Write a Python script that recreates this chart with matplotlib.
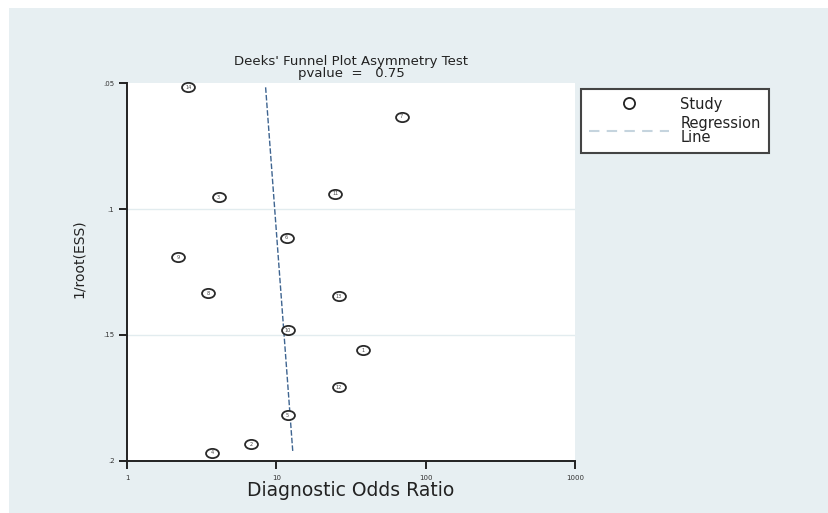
#!/usr/bin/env python3
"""Deeks' funnel plot asymmetry test, redrawn in matplotlib."""
import matplotlib
matplotlib.use("Agg")
import matplotlib.pyplot as plt
from matplotlib.lines import Line2D
from matplotlib.patches import Rectangle
from matplotlib.path import Path
from matplotlib.transforms import Affine2D
import numpy as np

# study data
study_ids = [14, 7, 3, 11, 6, 9, 8, 13, 10, 1, 12, 5, 2, 4]
dor = [2.57, 69.0, 4.1, 24.9, 11.7, 2.2, 3.5, 26.1, 11.9, 37.8, 26.1, 11.9, 6.8, 3.72]
inv_root_ess = [0.0516, 0.0632, 0.0952, 0.0939, 0.1114, 0.1191, 0.1334, 0.1346,
                0.1482, 0.1562, 0.1708, 0.1820, 0.1934, 0.1969]

# regression: ln(DOR) = intercept + slope * 1/root(ESS)
reg_intercept = 1.988
reg_slope = 2.893

x_ticks = [1, 10, 100, 1000]
y_ticks = [0.05, 0.1, 0.15, 0.2]
y_tick_labels = [".05", ".1", ".15", ".2"]
p_value = 0.75

BG = "#e7eff2"
INK = "#222222"
W, H = 829, 513

fig = plt.figure(figsize=(W / 100, H / 100), dpi=100)
fig.patch.set_facecolor("white")
fig.patches.append(Rectangle((9 / W, 0.5 / H), (W - 9) / W, (H - 8.5) / H,
                             transform=fig.transFigure, facecolor=BG,
                             edgecolor="none", zorder=-10))

ax = fig.add_axes([127 / W, 1 - 460.7 / H, 448 / W, 377.4 / H])
ax.set_facecolor("white")
ax.set_xscale("log")
ax.set_xlim(1, 1000)
ax.set_ylim(0.2, 0.05)
ax.minorticks_off()

for s in ["top", "right"]:
    ax.spines[s].set_visible(False)
for s in ["left", "bottom"]:
    ax.spines[s].set_linewidth(1.4)
    ax.spines[s].set_color(INK)

ax.set_xticks(x_ticks)
ax.set_xticklabels([str(t) for t in x_ticks])
ax.set_yticks(y_ticks)
ax.set_yticklabels(y_tick_labels)
ax.tick_params(axis="both", length=6, width=1.4, color=INK,
               labelsize=5, labelcolor="#333333", direction="out")
ax.tick_params(axis="x", pad=4)
ax.tick_params(axis="y", pad=3)

for yv in [0.1, 0.15]:
    ax.axhline(yv, color="#e2ecef", linewidth=1.0, zorder=0)

# regression line over the range of the studies
yy = np.array([min(inv_root_ess), max(inv_root_ess)])
ax.plot(np.exp(reg_intercept + reg_slope * yy), yy, color="#3e6490",
        linestyle=(0, (4, 1.5)), linewidth=1.0, zorder=2)

# oval study markers with ids inside
oval = Path.unit_circle().transformed(Affine2D().scale(1.4, 1.0))
ax.plot(dor, inv_root_ess, linestyle="none", marker=oval, markersize=9.3,
        markerfacecolor="white", markeredgecolor="#2a2a2a",
        markeredgewidth=1.3, zorder=3, clip_on=False)
for sid, xv, yv in zip(study_ids, dor, inv_root_ess):
    ax.text(xv, yv, str(sid), fontsize=3.6, color="#444444",
            ha="center", va="center", zorder=4)

fig.text(351 / W, 1 - 61 / H, "Deeks' Funnel Plot Asymmetry Test",
         ha="center", va="center", fontsize=9.5, color=INK)
fig.text(351 / W, 1 - 73.5 / H, f"pvalue  =   {p_value:.2f}",
         ha="center", va="center", fontsize=9.5, color=INK)

ax.set_xlabel("Diagnostic Odds Ratio", fontsize=13.5, color=INK)
ax.xaxis.set_label_coords(0.5, (460.7 - 481) / 377.4)
ax.set_ylabel("1/root(ESS)", fontsize=10, color=INK)
ax.yaxis.set_label_coords((86 - 127) / 448, (460.7 - 259) / 377.4)

handles = [
    Line2D([], [], linestyle="none", marker="o", markersize=8,
           markerfacecolor="white", markeredgecolor=INK, markeredgewidth=1.3),
    Line2D([], [], color="#c5d4de", linestyle=(0, (5, 3.5)), linewidth=1.5),
]
leg = fig.legend(handles, ["Study", "Regression\nLine"],
                 loc="upper left", bbox_to_anchor=(581 / W, 1 - 88.5 / H),
                 fontsize=10.5, frameon=True, fancybox=False, framealpha=1,
                 handlelength=5.5, handletextpad=0.75, borderpad=0.55,
                 labelspacing=0.3, borderaxespad=0)
leg.get_frame().set_edgecolor("#444444")
leg.get_frame().set_linewidth(1.5)
leg.get_frame().set_facecolor("white")
for t in leg.get_texts():
    t.set_color(INK)
    t.set_linespacing(0.95)

fig.savefig("out.png", dpi=100, facecolor=fig.get_facecolor())
